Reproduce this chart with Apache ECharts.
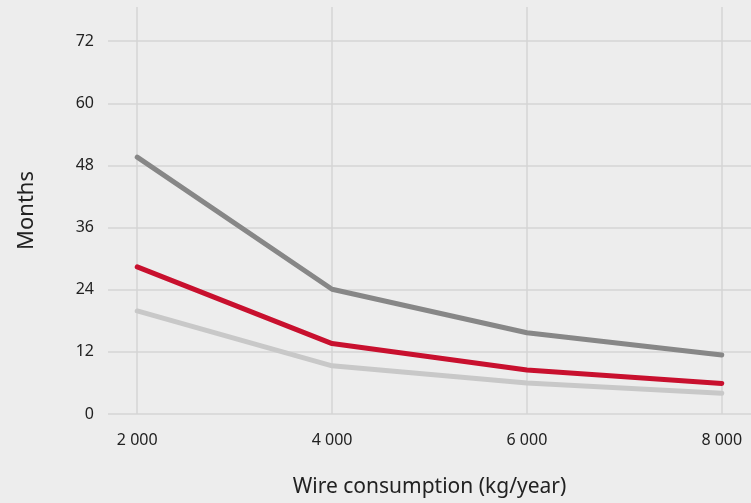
<!DOCTYPE html>
<html>
<head>
<meta charset="utf-8">
<script src="https://cdn.jsdelivr.net/npm/echarts@6/dist/echarts.min.js"></script>
<style>
  html, body { margin: 0; padding: 0; background: #ededed; }
  #chart { width: 751px; height: 503px; }
</style>
</head>
<body>
<div id="chart"></div>
<script>
// Wire consumption in kg/year
const consumption = [2000, 4000, 6000, 8000];
// Months for each curve
const darkGrey = [49.6, 24.1, 15.7, 11.4];
const red = [28.4, 13.6, 8.5, 5.9];
const lightGrey = [19.9, 9.3, 6.0, 4.0];
const monthTicks = [0, 12, 24, 36, 48, 60, 72];

const fontFamily = '"Noto Sans", sans-serif';

function pairs(values) {
  return consumption.map((x, i) => [x, values[i]]);
}

function lineSeries(name, values, color, z) {
  return {
    name: name,
    type: 'line',
    data: pairs(values),
    symbol: 'none',
    z: z,
    lineStyle: { color: color, width: 5, cap: 'round', join: 'round' }
  };
}

const chart = echarts.init(document.getElementById('chart'), null, { renderer: 'canvas' });
chart.setOption({
  backgroundColor: '#ededed',
  animation: false,
  grid: { left: 108, right: 0, top: 7, bottom: 89, outerBoundsMode: 'none', containLabel: false },
  xAxis: {
    type: 'value',
    min: 1700,
    max: 8300,
    name: 'Wire consumption (kg/year)',
    nameLocation: 'middle',
    nameGap: 63,
    nameTextStyle: { fontFamily: fontFamily, fontSize: 21, color: '#222' },
    axisLine: { show: false },
    axisTick: { show: false, customValues: consumption },
    axisLabel: {
      customValues: consumption,
      margin: 18,
      fontFamily: fontFamily,
      fontSize: 16,
      color: '#222',
      formatter: v => String(v).replace(/\B(?=(\d{3})+(?!\d))/g, ' ')
    },
    splitLine: { show: true, lineStyle: { color: '#d4d4d4', width: 1.5 } }
  },
  yAxis: {
    type: 'value',
    min: 0,
    max: 78.6,
    name: 'Months',
    nameLocation: 'middle',
    nameGap: 70,
    nameTextStyle: { fontFamily: fontFamily, fontSize: 22, color: '#222' },
    axisLine: { show: false },
    axisTick: { show: false, customValues: monthTicks },
    axisLabel: {
      customValues: monthTicks,
      margin: 14,
      fontFamily: fontFamily,
      fontSize: 16,
      color: '#222'
    },
    splitLine: { show: true, lineStyle: { color: '#d4d4d4', width: 1.5 } }
  },
  series: [
    lineSeries('Dark', darkGrey, '#878787', 3),
    lineSeries('Light', lightGrey, '#c8c8c8', 2),
    lineSeries('Red', red, '#c8102e', 4)
  ]
});
</script>
</body>
</html>
